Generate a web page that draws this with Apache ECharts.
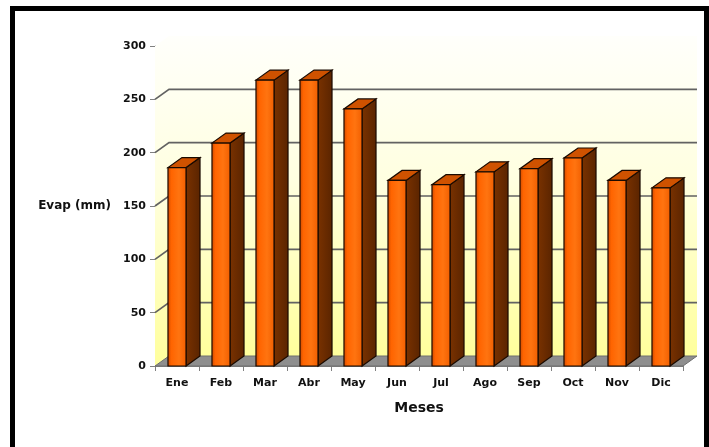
<!DOCTYPE html>
<html>
<head>
<meta charset="utf-8">
<script src="https://cdn.jsdelivr.net/npm/echarts@6/dist/echarts.min.js"></script>
<style>
  html, body { margin: 0; padding: 0; background: #ffffff; }
  #chart { width: 709px; height: 447px; }
</style>
</head>
<body>
<div id="chart"></div>
<script>
// Monthly evaporation (mm)
const months = ['Ene', 'Feb', 'Mar', 'Abr', 'May', 'Jun', 'Jul', 'Ago', 'Sep', 'Oct', 'Nov', 'Dic'];
const evap = [186, 209, 268, 268, 241, 174, 170, 182, 185, 195, 174, 167];
const yTicks = [0, 50, 100, 150, 200, 250, 300];
const wallLines = [50, 100, 150, 200, 250];

// depth offset of the pseudo-3D back plane (px)
const DX = 14, DY = -10;
const FONT = '"DejaVu Sans", sans-serif';

const chart = echarts.init(document.getElementById('chart'), null, { renderer: 'canvas' });

function wallGradient() {
  return new echarts.graphic.LinearGradient(0, 0, 0, 1, [
    { offset: 0, color: '#fffffb' },
    { offset: 0.45, color: '#ffffe0' },
    { offset: 1, color: '#ffff9c' }
  ]);
}

// back wall, side wall, floor and gridlines
function renderWalls(params, api) {
  const bw = api.size([1, 0])[0];
  const n = months.length;
  const xL = api.coord([0, 0])[0] - bw / 2;
  const xR = api.coord([n - 1, 0])[0] + bw / 2;
  const yMin = yTicks[0], yMax = yTicks[yTicks.length - 1];
  const yB = api.coord([0, yMin])[1];
  const yT = api.coord([0, yMax])[1];
  const children = [];
  // back wall
  children.push({
    type: 'polygon',
    shape: { points: [[xL + DX, yT + DY], [xR + DX, yT + DY], [xR + DX, yB + DY], [xL + DX, yB + DY]] },
    style: { fill: wallGradient(), stroke: null }
  });
  // left side wall
  children.push({
    type: 'polygon',
    shape: { points: [[xL, yT], [xL + DX, yT + DY], [xL + DX, yB + DY], [xL, yB]] },
    style: { fill: wallGradient(), stroke: null }
  });
  // gridlines along side wall and back wall
  wallLines.forEach(function (v) {
    const y = api.coord([0, v])[1];
    children.push({
      type: 'polyline',
      shape: { points: [[xL, y], [xL + DX, y + DY], [xR + DX, y + DY]] },
      style: { stroke: '#626262', lineWidth: 1.7, fill: null }
    });
  });
  // floor
  children.push({
    type: 'polygon',
    shape: { points: [[xL, yB], [xR, yB], [xR + DX, yB + DY], [xL + DX, yB + DY]] },
    style: { fill: '#8e8e8e', stroke: '#6e6e6e', lineWidth: 1 }
  });
  return { type: 'group', children: children };
}

// 3D-looking column: front, side and top faces
function renderBar(params, api) {
  const idx = api.value(0);
  const val = api.value(1);
  const top = api.coord([idx, val]);
  const base = api.coord([idx, 0]);
  const bw = api.size([1, 0])[0];
  const fw = bw * 0.41;
  const x1 = top[0] - fw / 2;
  const x2 = top[0] + fw / 2;
  const yT = top[1], yB = base[1];
  const outline = { stroke: '#1a0a00', lineWidth: 1.2 };
  return {
    type: 'group',
    children: [
      {
        type: 'polygon',
        shape: { points: [[x2, yT], [x2 + DX, yT + DY], [x2 + DX, yB + DY], [x2, yB]] },
        style: Object.assign({
          fill: new echarts.graphic.LinearGradient(0, 0, 1, 0, [
            { offset: 0, color: '#7a3200' },
            { offset: 1, color: '#5a2400' }
          ])
        }, outline)
      },
      {
        type: 'polygon',
        shape: { points: [[x1, yT], [x2, yT], [x2 + DX, yT + DY], [x1 + DX, yT + DY]] },
        style: Object.assign({ fill: '#cf5200' }, outline)
      },
      {
        type: 'rect',
        shape: { x: x1, y: yT, width: fw, height: yB - yT },
        style: Object.assign({
          fill: new echarts.graphic.LinearGradient(0, 0, 1, 0, [
            { offset: 0, color: '#c84800' },
            { offset: 0.2, color: '#ff6400' },
            { offset: 0.6, color: '#ff7410' },
            { offset: 1, color: '#f05e00' }
          ])
        }, outline)
      }
    ]
  };
}

const option = {
  backgroundColor: '#ffffff',
  animation: false,
  grid: { left: 155, right: 26, top: 46, bottom: 81, containLabel: false },
  xAxis: {
    type: 'category',
    data: months,
    name: 'Meses',
    nameLocation: 'middle',
    nameGap: 35,
    nameTextStyle: { fontFamily: FONT, fontWeight: 'bold', fontSize: 14, color: '#111' },
    axisLine: { show: true, lineStyle: { color: '#808080', width: 1 } },
    axisTick: { show: true, length: 5, lineStyle: { color: '#808080' } },
    axisLabel: { margin: 12, fontFamily: FONT, fontWeight: 'bold', fontSize: 11, color: '#111' },
    splitLine: { show: false }
  },
  yAxis: {
    type: 'value',
    min: yTicks[0],
    max: yTicks[yTicks.length - 1],
    interval: 50,
    name: 'Evap (mm)',
    nameLocation: 'middle',
    nameRotate: 0,
    nameGap: 44,
    nameTextStyle: { fontFamily: FONT, fontWeight: 'bold', fontSize: 12, color: '#111' },
    axisLine: { show: true, lineStyle: { color: '#808080', width: 1 } },
    axisTick: { show: true, length: 5, lineStyle: { color: '#808080' } },
    axisLabel: { margin: 9, fontFamily: FONT, fontWeight: 'bold', fontSize: 11, color: '#111' },
    splitLine: { show: false }
  },
  graphic: [
    {
      type: 'rect',
      shape: { x: 12.5, y: 8.5, width: 694, height: 470 },
      style: { fill: null, stroke: '#000000', lineWidth: 5 },
      z: 100
    }
  ],
  series: [
    {
      type: 'custom',
      name: 'walls',
      renderItem: renderWalls,
      data: [[0, 0]],
      z: 1,
      silent: true
    },
    {
      type: 'custom',
      name: 'Evap',
      renderItem: renderBar,
      data: evap.map(function (v, i) { return [i, v]; }),
      encode: { x: 0, y: 1 },
      z: 3
    }
  ]
};

chart.setOption(option);
</script>
</body>
</html>
